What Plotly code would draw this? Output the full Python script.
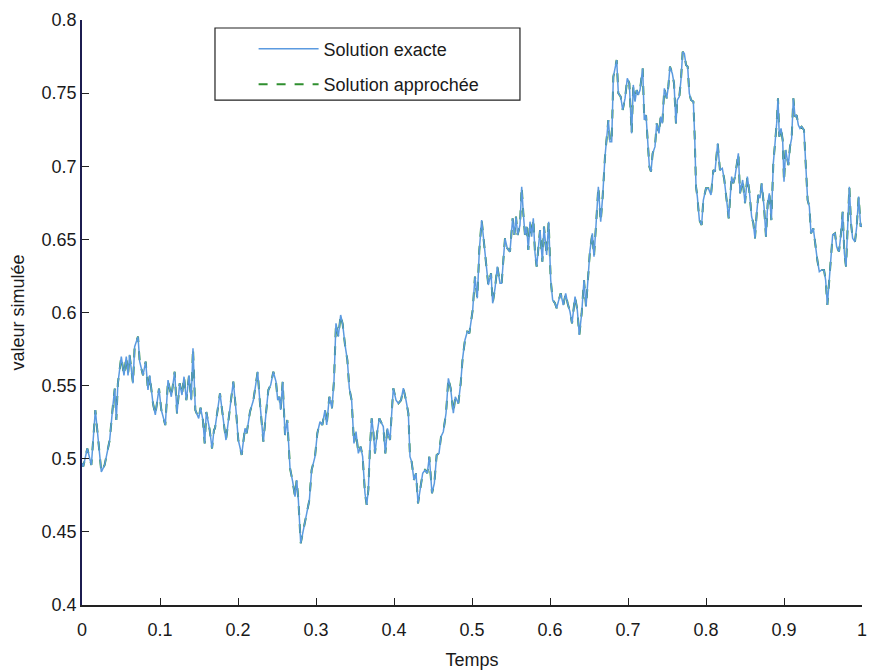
import plotly.graph_objects as go

# ---- data ----
temps = [
    0.0000, 0.0016, 0.0068, 0.0120, 0.0171, 0.0248, 0.0290, 0.0355, 0.0397, 0.0420,
    0.0440, 0.0460, 0.0504, 0.0538, 0.0568, 0.0590, 0.0610, 0.0654, 0.0675, 0.0718,
    0.0740, 0.0782, 0.0816, 0.0846, 0.0868, 0.0910, 0.0940, 0.0987, 0.1017, 0.1068,
    0.1103, 0.1145, 0.1188, 0.1218, 0.1252, 0.1282, 0.1308, 0.1338, 0.1372, 0.1400,
    0.1423, 0.1453, 0.1496, 0.1520, 0.1550, 0.1573, 0.1594, 0.1637, 0.1667, 0.1692,
    0.1705, 0.1735, 0.1769, 0.1812, 0.1846, 0.1889, 0.1940, 0.1974, 0.2004, 0.2047,
    0.2090, 0.2111, 0.2154, 0.2197, 0.2218, 0.2252, 0.2282, 0.2325, 0.2359, 0.2389,
    0.2419, 0.2453, 0.2487, 0.2509, 0.2530, 0.2547, 0.2573, 0.2603, 0.2632, 0.2667,
    0.2701, 0.2731, 0.2752, 0.2774, 0.2804, 0.2838, 0.2880, 0.2915, 0.2944, 0.2987,
    0.3017, 0.3051, 0.3081, 0.3115, 0.3137, 0.3171, 0.3205, 0.3231, 0.3256, 0.3286,
    0.3316, 0.3342, 0.3372, 0.3402, 0.3427, 0.3457, 0.3487, 0.3513, 0.3543, 0.3573,
    0.3598, 0.3628, 0.3650, 0.3671, 0.3692, 0.3714, 0.3735, 0.3756, 0.3786, 0.3812,
    0.3842, 0.3863, 0.3889, 0.3915, 0.3949, 0.3970, 0.3991, 0.4026, 0.4056, 0.4090,
    0.4120, 0.4154, 0.4184, 0.4205, 0.4226, 0.4256, 0.4282, 0.4308, 0.4333, 0.4368,
    0.4397, 0.4427, 0.4453, 0.4487, 0.4517, 0.4547, 0.4577, 0.4603, 0.4632, 0.4667,
    0.4697, 0.4726, 0.4761, 0.4786, 0.4825, 0.4855, 0.4880, 0.4910, 0.4940, 0.4966,
    0.5009, 0.5038, 0.5068, 0.5094, 0.5124, 0.5167, 0.5209, 0.5244, 0.5265, 0.5295,
    0.5325, 0.5359, 0.5380, 0.5402, 0.5423, 0.5453, 0.5487, 0.5521, 0.5543, 0.5564,
    0.5585, 0.5615, 0.5637, 0.5658, 0.5679, 0.5701, 0.5722, 0.5744, 0.5765, 0.5786,
    0.5808, 0.5829, 0.5850, 0.5872, 0.5902, 0.5923, 0.5957, 0.5983, 0.6009, 0.6034,
    0.6064, 0.6085, 0.6107, 0.6137, 0.6171, 0.6201, 0.6226, 0.6256, 0.6282, 0.6321,
    0.6350, 0.6376, 0.6406, 0.6436, 0.6462, 0.6491, 0.6513, 0.6543, 0.6564, 0.6590,
    0.6620, 0.6650, 0.6675, 0.6705, 0.6726, 0.6748, 0.6769, 0.6791, 0.6812, 0.6833,
    0.6855, 0.6876, 0.6906, 0.6932, 0.6962, 0.6991, 0.7017, 0.7047, 0.7068, 0.7090,
    0.7111, 0.7132, 0.7154, 0.7188, 0.7209, 0.7231, 0.7252, 0.7274, 0.7295, 0.7316,
    0.7346, 0.7368, 0.7397, 0.7419, 0.7440, 0.7466, 0.7496, 0.7517, 0.7538, 0.7568,
    0.7590, 0.7615, 0.7632, 0.7658, 0.7679, 0.7701, 0.7722, 0.7744, 0.7765, 0.7786,
    0.7808, 0.7838, 0.7855, 0.7872, 0.7889, 0.7915, 0.7944, 0.7966, 0.8000, 0.8030,
    0.8064, 0.8094, 0.8115, 0.8150, 0.8179, 0.8209, 0.8235, 0.8265, 0.8291, 0.8329,
    0.8350, 0.8372, 0.8415, 0.8436, 0.8470, 0.8500, 0.8530, 0.8556, 0.8585, 0.8607,
    0.8628, 0.8650, 0.8671, 0.8692, 0.8714, 0.8744, 0.8769, 0.8791, 0.8812, 0.8838,
    0.8863, 0.8885, 0.8906, 0.8923, 0.8940, 0.8962, 0.8983, 0.9000, 0.9021, 0.9056,
    0.9077, 0.9098, 0.9120, 0.9141, 0.9162, 0.9184, 0.9205, 0.9226, 0.9256, 0.9278,
    0.9303, 0.9325, 0.9346, 0.9376, 0.9402, 0.9427, 0.9453, 0.9483, 0.9513, 0.9534,
    0.9556, 0.9577, 0.9598, 0.9624, 0.9654, 0.9675, 0.9705, 0.9731, 0.9752, 0.9774,
    0.9795, 0.9816, 0.9838, 0.9859, 0.9880, 0.9910, 0.9932, 0.9957, 0.9983, 1.0000,
]

solution_exacte = [
    0.4970, 0.4946, 0.5070, 0.4957, 0.5333, 0.4910, 0.4957, 0.5128, 0.5368, 0.5480,
    0.5265, 0.5516, 0.5698, 0.5570, 0.5698, 0.5570, 0.5710, 0.5516, 0.5766, 0.5835,
    0.5664, 0.5570, 0.5664, 0.5470, 0.5570, 0.5379, 0.5300, 0.5480, 0.5333, 0.5230,
    0.5538, 0.5424, 0.5595, 0.5310, 0.5516, 0.5436, 0.5561, 0.5400, 0.5570, 0.5400,
    0.5755, 0.5333, 0.5276, 0.5350, 0.5265, 0.5105, 0.5320, 0.5197, 0.5070, 0.5197,
    0.5208, 0.5333, 0.5447, 0.5265, 0.5128, 0.5311, 0.5527, 0.5333, 0.5128, 0.5026,
    0.5208, 0.5174, 0.5322, 0.5400, 0.5480, 0.5595, 0.5379, 0.5117, 0.5311, 0.5470,
    0.5504, 0.5595, 0.5527, 0.5400, 0.5424, 0.5333, 0.5527, 0.5162, 0.5265, 0.4935,
    0.4843, 0.4741, 0.4855, 0.4718, 0.4422, 0.4513, 0.4615, 0.4718, 0.4923, 0.5014,
    0.5174, 0.5253, 0.5231, 0.5333, 0.5231, 0.5424, 0.5345, 0.5538, 0.5926, 0.5835,
    0.5983, 0.5920, 0.5778, 0.5675, 0.5482, 0.5400, 0.5105, 0.5185, 0.5037, 0.5083,
    0.5014, 0.4764, 0.4684, 0.4787, 0.5083, 0.5276, 0.5185, 0.5037, 0.5185, 0.5276,
    0.5242, 0.5220, 0.5037, 0.5208, 0.5128, 0.5333, 0.5482, 0.5400, 0.5379, 0.5400,
    0.5482, 0.5400, 0.5311, 0.5014, 0.4980, 0.4855, 0.4901, 0.4695, 0.4787, 0.4901,
    0.4923, 0.4901, 0.5014, 0.4764, 0.4832, 0.5026, 0.5037, 0.5151, 0.5185, 0.5311,
    0.5550, 0.5482, 0.5311, 0.5424, 0.5379, 0.5516, 0.5687, 0.5812, 0.5869, 0.5858,
    0.6017, 0.6245, 0.6097, 0.6427, 0.6632, 0.6405, 0.6188, 0.6268, 0.6063, 0.6165,
    0.6314, 0.6200, 0.6200, 0.6359, 0.6507, 0.6439, 0.6416, 0.6644, 0.6530, 0.6655,
    0.6530, 0.6598, 0.6860, 0.6678, 0.6530, 0.6587, 0.6427, 0.6621, 0.6519, 0.6644,
    0.6405, 0.6314, 0.6439, 0.6564, 0.6348, 0.6587, 0.6393, 0.6621, 0.6222, 0.6086,
    0.6063, 0.6029, 0.6074, 0.6131, 0.6051, 0.6131, 0.6063, 0.6006, 0.5926, 0.6108,
    0.6017, 0.5846, 0.5995, 0.6222, 0.6040, 0.6245, 0.6427, 0.6541, 0.6382, 0.6598,
    0.6860, 0.6621, 0.6792, 0.7065, 0.7202, 0.7316, 0.7168, 0.7168, 0.7612, 0.7681,
    0.7726, 0.7499, 0.7476, 0.7385, 0.7464, 0.7601, 0.7567, 0.7225, 0.7556, 0.7442,
    0.7521, 0.7487, 0.7521, 0.7670, 0.7316, 0.7350, 0.7157, 0.6997, 0.6963, 0.7088,
    0.7134, 0.7293, 0.7225, 0.7339, 0.7293, 0.7533, 0.7464, 0.7544, 0.7681, 0.7635,
    0.7567, 0.7293, 0.7453, 0.7476, 0.7590, 0.7783, 0.7772, 0.7692, 0.7681, 0.7499,
    0.7453, 0.7442, 0.7202, 0.6860, 0.6792, 0.6632, 0.6598, 0.6769, 0.6849, 0.6849,
    0.6804, 0.6974, 0.6963, 0.7157, 0.6974, 0.6986, 0.6906, 0.6769, 0.6644, 0.6929,
    0.6883, 0.6929, 0.7088, 0.6815, 0.6906, 0.6747, 0.6929, 0.6827, 0.6655, 0.6610,
    0.6507, 0.6678, 0.6804, 0.6781, 0.6883, 0.6724, 0.6519, 0.6747, 0.6815, 0.6632,
    0.7020, 0.7157, 0.7293, 0.7465, 0.7202, 0.7259, 0.7179, 0.6895, 0.7111, 0.7008,
    0.7134, 0.7191, 0.7465, 0.7339, 0.7350, 0.7282, 0.7259, 0.7270, 0.7248, 0.7020,
    0.6769, 0.6724, 0.6541, 0.6575, 0.6450, 0.6359, 0.6279, 0.6291, 0.6291, 0.6222,
    0.6051, 0.6222, 0.6382, 0.6530, 0.6541, 0.6450, 0.6416, 0.6541, 0.6689, 0.6405,
    0.6314, 0.6610, 0.6860, 0.6610, 0.6507, 0.6484, 0.6587, 0.6792, 0.6587, 0.6600,
]

# the approximated path lies on top of the exact one in the picture
solution_approchee = list(solution_exacte)

x_ticks = [0, 0.1, 0.2, 0.3, 0.4, 0.5, 0.6, 0.7, 0.8, 0.9, 1]
x_labels = ["0", "0.1", "0.2", "0.3", "0.4", "0.5", "0.6", "0.7", "0.8", "0.9", "1"]
y_ticks = [0.4, 0.45, 0.5, 0.55, 0.6, 0.65, 0.7, 0.75, 0.8]
y_labels = ["0.4", "0.45", "0.5", "0.55", "0.6", "0.65", "0.7", "0.75", "0.8"]

FONT = "Liberation Sans, Arial, Helvetica, sans-serif"
BLUE = "#5b9ae0"
GREEN = "#2f8f2f"

fig = go.Figure()
fig.add_trace(go.Scatter(
    x=temps, y=solution_approchee, mode="lines", name="Solution approchée",
    line=dict(color=GREEN, width=2.0, dash="dash"), legendrank=2,
    legendgroup="b",
))
fig.add_trace(go.Scatter(
    x=temps, y=solution_exacte, mode="lines", name="Solution exacte",
    line=dict(color=BLUE, width=1.5), legendrank=1, legendgroup="a",
))

fig.update_layout(
    width=869, height=672,
    margin=dict(l=82, r=7, t=20, b=67, autoexpand=False),
    paper_bgcolor="white", plot_bgcolor="white",
    font=dict(family=FONT, size=17, color="#1a1a1a"),
    showlegend=True,
    legend=dict(
        x=0.22, y=0.982, xanchor="left", yanchor="top",
        bgcolor="rgba(0,0,0,0)", borderwidth=0,
        font=dict(family=FONT, size=18, color="#1a1a1a"),
        tracegroupgap=9, itemwidth=60,
    ),
    shapes=[dict(
        type="rect", xref="paper", yref="paper",
        x0=0.1705, x1=0.5615, y0=0.8632, y1=0.9863,
        line=dict(color="#222222", width=1.2), fillcolor="white", layer="below",
    )],
)
fig.update_xaxes(
    range=[0, 1], tickvals=x_ticks, ticktext=x_labels, automargin=False,
    showline=True, linecolor="#222222", linewidth=1.5, mirror=False,
    ticks="inside", ticklen=7, tickcolor="#222222", showgrid=False, zeroline=False,
    ticklabelstandoff=8,
    tickfont=dict(size=18), title=dict(text="Temps", font=dict(size=18), standoff=14),
)
fig.update_yaxes(
    range=[0.4, 0.8], tickvals=y_ticks, ticktext=y_labels, automargin=False,
    showline=True, linecolor="#1c1c50", linewidth=1.5, mirror=False,
    ticks="inside", ticklen=7, tickcolor="#222222", showgrid=False, zeroline=False,
    tickfont=dict(size=18), title=dict(text="valeur simulée", font=dict(size=18), standoff=12),
)

fig.write_html(
    "out.html",
    config={"displayModeBar": False},
    post_script="document.body.style.margin='0';document.body.style.overflow='hidden';",
)
